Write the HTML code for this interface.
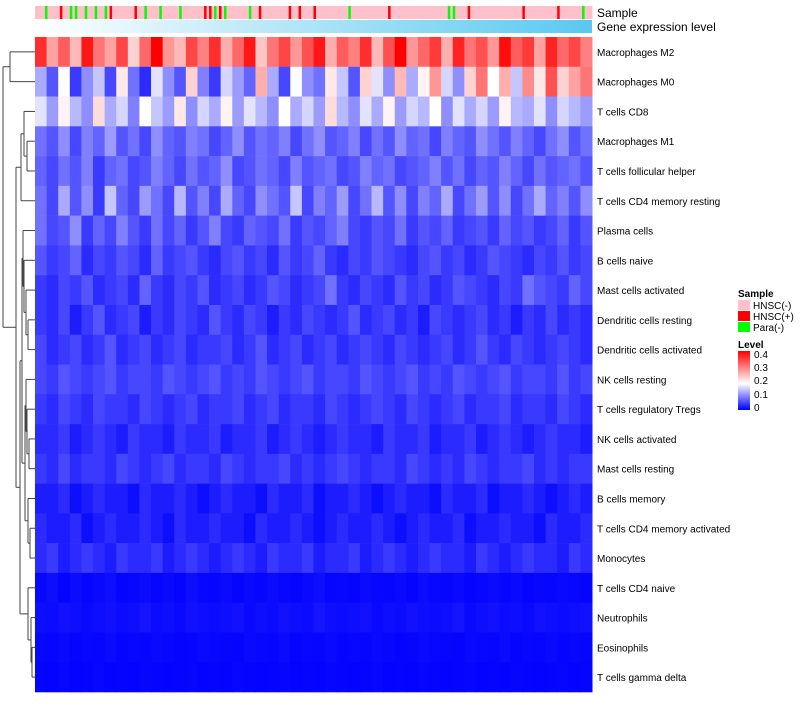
<!DOCTYPE html>
<html><head><meta charset="utf-8">
<style>
body{margin:0;background:#fff;font-family:"Liberation Sans",sans-serif;}
svg text{font-family:"Liberation Sans",sans-serif;}
</style></head>
<body>
<svg id="chart" width="800" height="700" xmlns="http://www.w3.org/2000/svg">
<defs>
<linearGradient id="expr" x1="0" x2="1" y1="0" y2="0"><stop offset="0" stop-color="#ffffff"/><stop offset="1" stop-color="#5ac8f0"/></linearGradient>
<linearGradient id="lev" x1="0" x2="0" y1="1" y2="0"><stop offset="0" stop-color="#0000ff"/><stop offset="0.45" stop-color="#ffffff"/><stop offset="1" stop-color="#ff0000"/></linearGradient>
</defs>
<g id="cells"></g>
<g id="sample"></g>
<rect x="35" y="20" width="557" height="13" fill="url(#expr)"/>
<text x="597" y="17" font-size="12">Sample</text>
<text x="597" y="31" font-size="12">Gene expression level</text>
<g id="labels"></g>
<g id="dendro" stroke="#444" stroke-width="1" fill="none"></g>
<g font-size="10">
<text x="738" y="297" font-weight="bold">Sample</text>
<rect x="738" y="300" width="12" height="10" fill="#ffc0cb"/>
<text x="753" y="309">HNSC(-)</text>
<rect x="738" y="311" width="12" height="10" fill="#ff0000"/>
<text x="753" y="320">HNSC(+)</text>
<rect x="738" y="322" width="12" height="10" fill="#00ff00"/>
<text x="753" y="331">Para(-)</text>
</g>
<g font-size="10">
<text x="738" y="348" font-weight="bold">Level</text>
<rect x="738" y="351" width="12" height="59" fill="url(#lev)"/>
<text x="754" y="358">0.4</text>
<text x="754" y="371">0.3</text>
<text x="754" y="384">0.2</text>
<text x="754" y="398">0.1</text>
<text x="754" y="411">0</text>
</g>
</svg>
<script>
const rowNames=["Macrophages M2","Macrophages M0","T cells CD8","Macrophages M1","T cells follicular helper","T cells CD4 memory resting","Plasma cells","B cells naive","Mast cells activated","Dendritic cells resting","Dendritic cells activated","NK cells resting","T cells regulatory  Tregs","NK cells activated","Mast cells resting","B cells memory","T cells CD4 memory activated","Monocytes","T cells CD4 naive","Neutrophils","Eosinophils","T cells gamma delta"];
const r0=[.36,.26,.32,.24,.38,.3,.26,.34,.22,.31,.4,.27,.24,.34,.29,.36,.25,.31,.38,.23,.3,.34,.27,.33,.38,.25,.32,.29,.36,.24,.33,.4,.27,.31,.35,.25,.37,.3,.33,.27,.39,.32,.35,.26,.37,.31,.34,.29];
const r1=[.12,.06,.18,.04,.1,.14,.05,.2,.08,.03,.16,.1,.06,.22,.09,.04,.15,.11,.07,.25,.12,.05,.18,.1,.08,.2,.14,.06,.22,.16,.1,.24,.12,.19,.27,.15,.1,.22,.3,.18,.25,.14,.28,.2,.33,.22,.26,.3];
const r2=[.16,.11,.19,.13,.1,.21,.12,.15,.09,.18,.14,.11,.2,.1,.15,.12,.19,.11,.16,.13,.1,.18,.12,.15,.11,.21,.13,.1,.16,.12,.19,.11,.15,.13,.18,.1,.16,.12,.15,.11,.19,.13,.12,.16,.1,.15,.13,.11];
const r3=[.08,.06,.1,.05,.09,.07,.11,.06,.08,.05,.1,.07,.06,.09,.08,.05,.07,.1,.06,.08,.07,.09,.05,.08,.1,.06,.07,.09,.05,.08,.06,.1,.07,.08,.05,.09,.07,.06,.1,.08,.06,.09,.07,.05,.08,.1,.06,.08];
const r4=[.07,.05,.08,.06,.09,.04,.07,.08,.05,.06,.09,.07,.05,.08,.06,.07,.1,.05,.06,.08,.07,.05,.09,.06,.07,.08,.05,.06,.09,.07,.08,.05,.06,.07,.09,.06,.08,.05,.07,.06,.09,.07,.05,.08,.06,.07,.08,.06];
const r5=[.08,.05,.12,.06,.1,.04,.14,.07,.05,.11,.08,.05,.13,.06,.09,.05,.12,.07,.05,.1,.08,.06,.14,.05,.09,.07,.11,.05,.08,.13,.06,.1,.05,.09,.07,.12,.05,.08,.11,.06,.1,.05,.08,.12,.07,.09,.06,.1];
const r6=[.08,.05,.06,.1,.04,.07,.05,.09,.06,.04,.08,.05,.07,.04,.06,.09,.05,.04,.07,.06,.05,.08,.04,.06,.05,.07,.09,.05,.04,.06,.05,.08,.04,.06,.05,.07,.04,.05,.06,.04,.07,.05,.06,.04,.05,.07,.04,.06];
const r7=[.06,.04,.05,.07,.03,.05,.04,.06,.05,.03,.07,.04,.05,.06,.04,.03,.05,.06,.04,.05,.03,.06,.04,.05,.07,.04,.03,.05,.04,.06,.05,.04,.03,.05,.06,.04,.05,.03,.04,.06,.05,.04,.03,.05,.04,.06,.04,.05];
const r8=[.04,.03,.05,.04,.06,.03,.04,.05,.03,.07,.04,.03,.05,.04,.06,.03,.04,.05,.03,.04,.06,.05,.03,.04,.05,.08,.04,.03,.05,.04,.03,.06,.04,.05,.03,.04,.06,.05,.04,.03,.05,.04,.08,.06,.05,.04,.07,.05];
const r9=[.04,.03,.05,.02,.04,.06,.03,.04,.05,.02,.04,.03,.05,.04,.03,.06,.04,.03,.05,.04,.02,.04,.03,.05,.04,.03,.04,.06,.03,.04,.05,.03,.04,.02,.05,.04,.03,.04,.05,.03,.04,.02,.04,.03,.05,.03,.04,.03];
const r10=[.05,.03,.04,.05,.03,.04,.06,.03,.04,.05,.03,.04,.05,.03,.04,.04,.05,.03,.04,.06,.03,.04,.05,.03,.04,.05,.03,.04,.05,.04,.03,.05,.04,.03,.04,.05,.03,.04,.06,.04,.03,.05,.04,.03,.04,.05,.04,.03];
const r11=[.05,.04,.06,.05,.04,.05,.06,.04,.05,.05,.04,.06,.05,.04,.05,.06,.04,.05,.04,.06,.05,.04,.05,.06,.04,.05,.05,.04,.06,.05,.04,.05,.06,.04,.05,.04,.06,.05,.04,.05,.06,.04,.05,.05,.04,.06,.04,.05];
const r12=[.04,.03,.05,.04,.03,.05,.04,.04,.03,.05,.04,.03,.04,.05,.03,.04,.04,.05,.03,.04,.05,.03,.04,.04,.03,.05,.04,.03,.04,.05,.04,.03,.05,.04,.03,.04,.05,.03,.04,.04,.05,.03,.04,.04,.03,.05,.04,.03];
const r13=[.03,.03,.04,.02,.03,.04,.03,.02,.04,.03,.03,.02,.04,.03,.03,.04,.02,.03,.03,.04,.02,.03,.04,.03,.02,.03,.04,.03,.03,.02,.04,.03,.03,.04,.02,.03,.03,.04,.02,.03,.04,.03,.02,.03,.04,.03,.03,.02];
const r14=[.04,.03,.05,.03,.04,.04,.03,.05,.04,.03,.04,.05,.03,.04,.04,.03,.05,.04,.03,.04,.04,.05,.03,.04,.03,.04,.05,.04,.03,.04,.04,.03,.05,.04,.03,.04,.03,.05,.04,.03,.04,.04,.05,.03,.04,.03,.04,.04];
const r15=[.02,.02,.03,.01,.02,.03,.02,.02,.01,.03,.02,.02,.03,.02,.01,.02,.03,.02,.02,.01,.03,.02,.02,.03,.01,.02,.02,.03,.02,.01,.02,.03,.02,.02,.01,.03,.02,.02,.03,.01,.02,.02,.03,.02,.01,.02,.03,.02];
const r16=[.03,.02,.02,.03,.01,.02,.03,.02,.02,.03,.02,.01,.03,.02,.02,.03,.02,.02,.01,.03,.02,.02,.03,.02,.01,.02,.03,.02,.02,.03,.02,.01,.02,.03,.02,.02,.03,.01,.02,.02,.03,.02,.02,.01,.03,.02,.02,.03];
const r17=[.03,.04,.02,.03,.04,.03,.02,.04,.03,.03,.04,.02,.03,.04,.03,.02,.03,.04,.03,.02,.04,.03,.03,.04,.02,.03,.03,.04,.02,.03,.04,.03,.02,.03,.04,.03,.03,.02,.04,.03,.02,.03,.04,.03,.03,.02,.04,.03];
const r18=[.005,.01,.003,.008,.004,.006,.01,.003,.005,.008,.004,.006,.003,.01,.005,.004,.007,.003,.006,.004,.008,.005,.003,.006,.01,.004,.005,.003,.007,.005,.004,.006,.003,.008,.005,.004,.006,.003,.005,.007,.004,.006,.003,.005,.004,.006,.005,.003];
const r19=[.01,.008,.012,.01,.006,.01,.012,.008,.01,.014,.008,.01,.006,.012,.01,.008,.01,.012,.006,.01,.008,.012,.01,.008,.014,.01,.008,.01,.012,.006,.01,.008,.012,.01,.008,.01,.014,.006,.01,.012,.008,.01,.006,.012,.01,.008,.01,.012];
const r20=[.005,.004,.006,.003,.005,.004,.007,.003,.005,.004,.006,.005,.003,.004,.006,.005,.004,.003,.006,.005,.004,.007,.003,.005,.004,.006,.003,.005,.004,.006,.005,.003,.004,.006,.005,.004,.003,.006,.005,.004,.007,.003,.005,.004,.006,.003,.005,.004];
const r21=[.003,.002,.004,.002,.003,.005,.002,.003,.002,.004,.003,.002,.003,.004,.002,.003,.002,.005,.003,.002,.003,.004,.002,.003,.002,.004,.003,.002,.003,.005,.002,.003,.002,.004,.003,.002,.003,.004,.002,.003,.002,.004,.003,.002,.003,.004,.002,.003];
const rows=[r0,r1,r2,r3,r4,r5,r6,r7,r8,r9,r10,r11,r12,r13,r14,r15,r16,r17,r18,r19,r20,r21];
// sample annotation: 0=HNSC(-),1=HNSC(+),2=Para(-)  (per-column)
const sampleCodes="0020010220202021000010200200020000112120000201000001010010000002000000010000000000022001000000000010000001000020";
const NS="http://www.w3.org/2000/svg";
const X0=35,X1=592,Y0=37,Y1=692;
const nCols=r0.length,nRows=rows.length;
const cw=(X1-X0)/nCols,rh=(Y1-Y0)/nRows;
function xPos(i){return X0+i*cw;}
function yPos(j){return Y0+j*rh;}
function lerp(a,b,t){return Math.round(a+(b-a)*t);}
function color(v){
  const mid=0.18,max=0.4;
  if(v<=mid){const t=Math.max(0,v/mid);return `rgb(${lerp(0,255,t)},${lerp(0,255,t)},255)`;}
  const t=Math.min(1,(v-mid)/(max-mid));return `rgb(255,${lerp(255,0,t)},${lerp(255,0,t)})`;
}
const cells=document.getElementById('cells');
rows.forEach((row,j)=>{
  row.forEach((v,i)=>{
    const r=document.createElementNS(NS,'rect');
    r.setAttribute('x',xPos(i));r.setAttribute('y',yPos(j));
    r.setAttribute('width',cw+0.5);r.setAttribute('height',rh+0.3);
    r.setAttribute('fill',color(v));
    
    
    cells.appendChild(r);
  });
});
const sg=document.getElementById('sample');
const sc=["#ffc0cb","#ff0000","#00ff00"];
const sw=(X1-X0)/sampleCodes.length;
for(let i=0;i<sampleCodes.length;i++){
  if(sampleCodes[i]!=='0'){const b=document.createElementNS(NS,'rect');b.setAttribute('x',X0+i*sw);b.setAttribute('y',6);b.setAttribute('width',sw+0.5);b.setAttribute('height',13);b.setAttribute('fill',sc[0]);
  
  
  sg.appendChild(b);}
  const r=document.createElementNS(NS,'rect');
  r.setAttribute('x',X0+i*sw);r.setAttribute('y',6);
  r.setAttribute('width',sampleCodes[i]==='0'?sw+0.5:Math.min(sw,2.5));r.setAttribute('height',13);
  r.setAttribute('fill',sc[+sampleCodes[i]]);
  
  
  sg.appendChild(r);
}
const lg=document.getElementById('labels');
rowNames.forEach((n,j)=>{
  const t=document.createElementNS(NS,'text');
  t.setAttribute('x',597);t.setAttribute('y',yPos(j)+rh/2+4);
  t.setAttribute('font-size','10');t.textContent=n;
  
  
  lg.appendChild(t);
});
const dg=document.getElementById('dendro');
function cy(j){return yPos(j)+rh/2;}
function seg(x1,y1,x2,y2){const l=document.createElementNS(NS,'line');l.setAttribute('x1',x1);l.setAttribute('y1',y1);l.setAttribute('x2',x2);l.setAttribute('y2',y2);


dg.appendChild(l);}
function join(ya,xa,yb,xb,x){seg(xa,ya,x,ya);seg(xb,yb,x,yb);seg(x,ya,x,yb);return [(ya+yb)/2,x];}
let A=join(cy(0),X0,cy(1),X0,10);
let cur=join(cy(20),X0,cy(21),X0,32);
cur=join(cy(19),X0,cur[0],cur[1],31);
cur=join(cy(18),X0,cur[0],cur[1],28);
let m=join(cy(16),X0,cy(17),X0,30);
m=join(cy(15),X0,m[0],m[1],28);
let n=join(cy(13),X0,cy(14),X0,29);
n=join(cy(12),X0,n[0],n[1],27);
n=join(cy(11),X0,n[0],n[1],26);
n=join(n[0],n[1],m[0],m[1],25);
let d=join(cy(9),X0,cy(10),X0,28);
d=join(cy(8),X0,d[0],d[1],26);
d=join(cy(7),X0,d[0],d[1],24);
d=join(cy(6),X0,d[0],d[1],23);
d=join(d[0],d[1],n[0],n[1],22);
d=join(d[0],d[1],cur[0],cur[1],20);
let c=join(cy(3),X0,cy(4),X0,27);
c=join(cy(2),X0,c[0],c[1],24);
c=join(c[0],c[1],cy(5),X0,21);
c=join(c[0],c[1],d[0],d[1],16);
join(A[0],A[1],c[0],c[1],3);
</script>
</body></html>
